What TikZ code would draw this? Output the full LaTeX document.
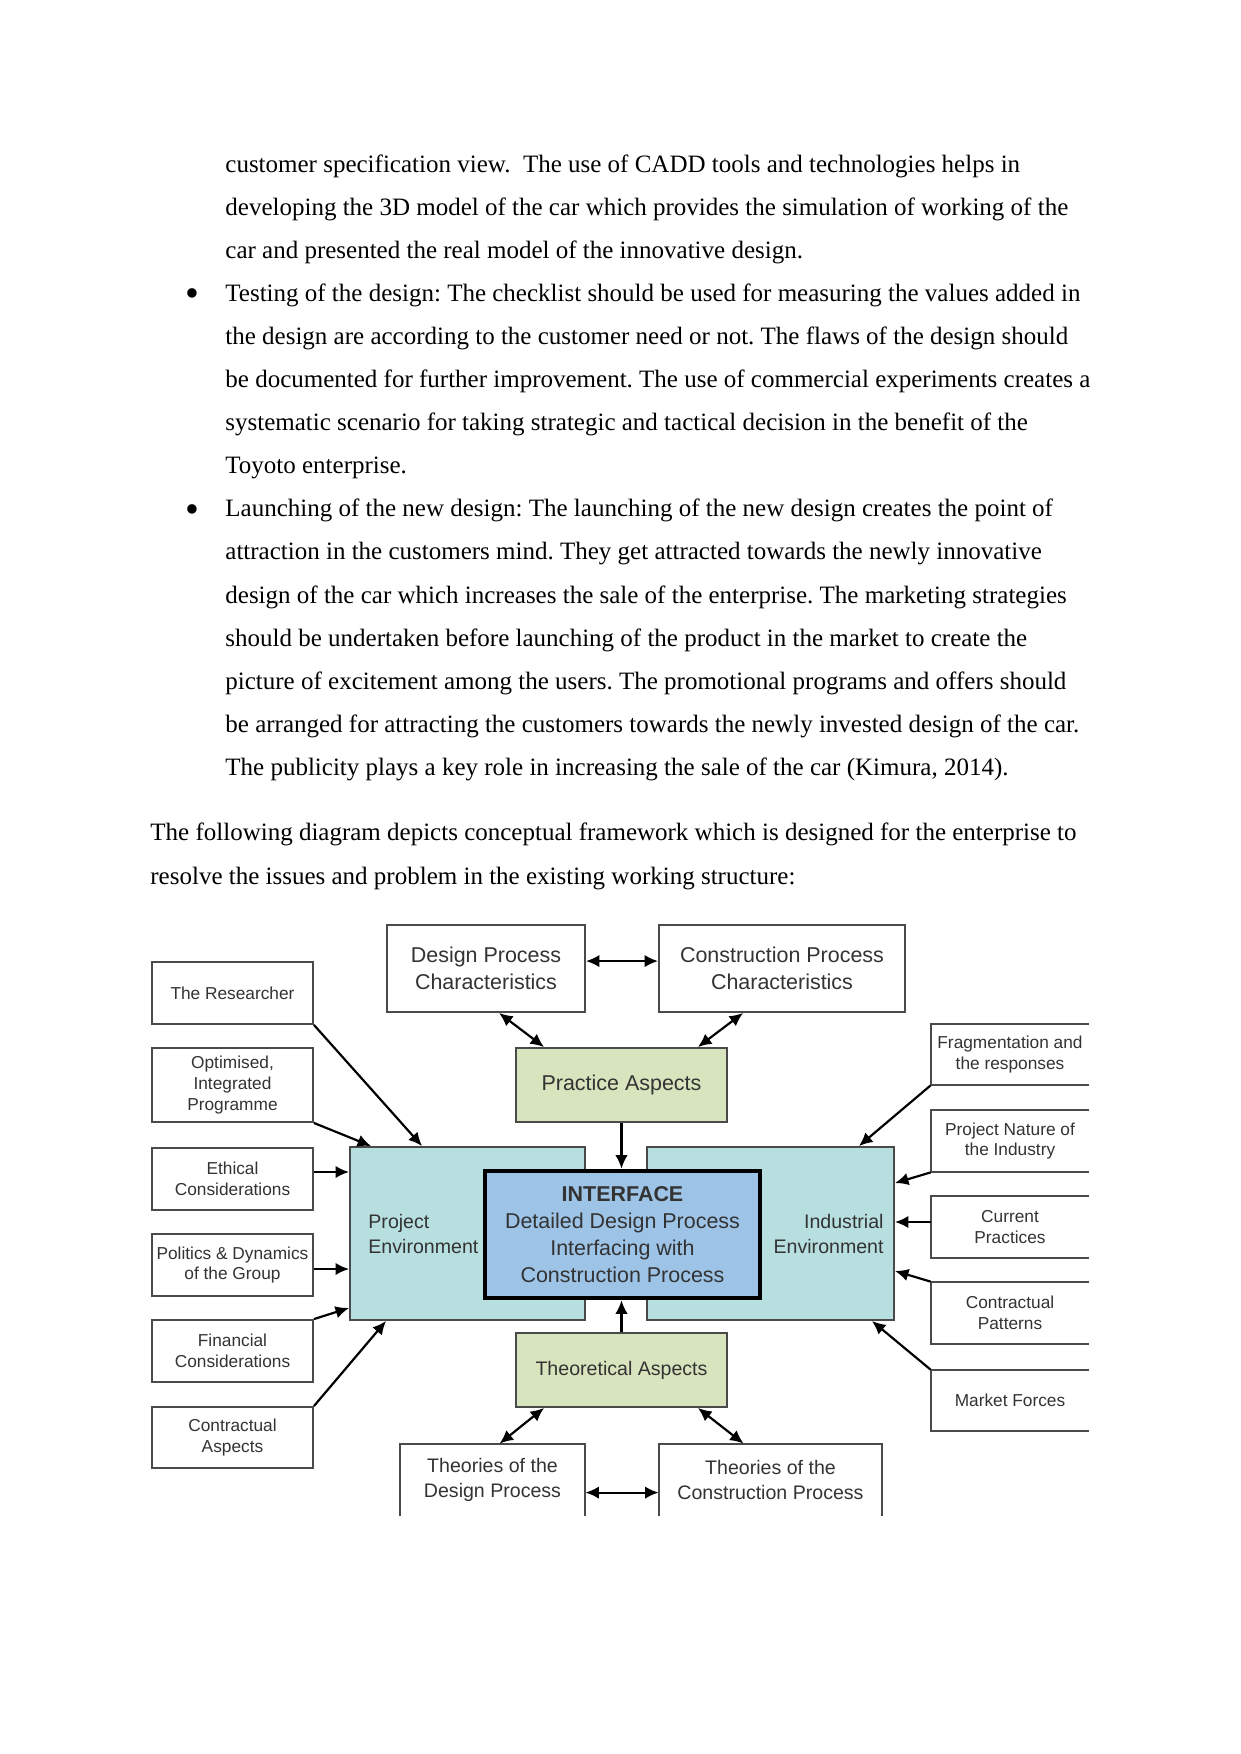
\documentclass[tikz,border=0pt]{standalone}
\usepackage{fontspec}
\setmainfont{Liberation Serif}
\newfontfamily\dia{Liberation Sans}
\usetikzlibrary{arrows.meta,calc}
\definecolor{txt}{HTML}{333333}
\definecolor{brd}{HTML}{4A4A4A}
\definecolor{envc}{HTML}{B8DFDF}
\definecolor{grn}{HTML}{D7E4BD}
\definecolor{ifcc}{HTML}{9DC3E6}
\newcommand\fbig{\dia\fontsize{10.3}{12.9}\selectfont}
\newcommand\fmid{\dia\fontsize{9.4}{11.8}\selectfont}
\newcommand\fsm{\dia\fontsize{8.3}{9.9}\selectfont}
\newcommand\fbody{\frenchspacing\fontsize{12}{14}\selectfont}
\newcommand\fbul{\fontsize{19}{19}\selectfont}
\begin{document}
\begin{tikzpicture}[x=0.48pt,y=-0.48pt,
  every node/.style={inner sep=0pt},
  bodyline/.style={anchor=base west, font=\fbody},
  bul/.style={anchor=center, font=\fbul},
  rect/.style n args={4}{minimum width={(#3-#1)*0.48pt}, minimum height={(#4-#2)*0.48pt},
     at={({(#1+#3)/2},{(#2+#4)/2})}, align=center, text=txt},
  wbox/.style={draw=brd, line width=0.9pt, fill=white},
  gbox/.style={draw=brd, line width=0.9pt, fill=grn},
  ebox/.style={draw=brd, line width=0.9pt, fill=envc},
  ibox/.style={draw=black, line width=2.2pt, fill=ifcc},
  openline/.style={draw=brd, line width=0.9pt},
  arr/.style={-{Latex[length=6.5pt,width=6pt]}, line width=1.05pt},
  darr/.style={{Latex[length=6.5pt,width=6pt]}-{Latex[length=6.5pt,width=6pt]}, line width=1.05pt}]
\useasboundingbox (0,0) rectangle (1241,1754);
\fill[white] (0,0) rectangle (1241,1754);

% ---------- body text ----------
\node[bodyline] (l0) at (225,172) {customer specification view.~ The use of CADD tools and technologies helps in};
\node[bodyline] (l1) at (225,215.1) {developing the 3D model of the car which provides the simulation of working of the};
\node[bodyline] (l2) at (225,258.2) {car and presented the real model of the innovative design.};
\node[bul] (b1) at (192,298) {\textbullet};
\node[bodyline] (l3) at (225,301.3) {Testing of the design: The checklist should be used for measuring the values added in};
\node[bodyline] (l4) at (225,344.4) {the design are according to the customer need or not. The flaws of the design should};
\node[bodyline] (l5) at (225,387.5) {be documented for further improvement. The use of commercial experiments creates a};
\node[bodyline] (l6) at (225,430.6) {systematic scenario for taking strategic and tactical decision in the benefit of the};
\node[bodyline] (l7) at (225,473.7) {Toyoto enterprise.};
\node[bul] (b2) at (192,513.5) {\textbullet};
\node[bodyline] (l8) at (225,516.8) {Launching of the new design: The launching of the new design creates the point of};
\node[bodyline] (l9) at (225,559.9) {attraction in the customers mind. They get attracted towards the newly innovative};
\node[bodyline] (l10) at (225,603) {design of the car which increases the sale of the enterprise. The marketing strategies};
\node[bodyline] (l11) at (225,646.1) {should be undertaken before launching of the product in the market to create the};
\node[bodyline] (l12) at (225,689.2) {picture of excitement among the users. The promotional programs and offers should};
\node[bodyline] (l13) at (225,732.3) {be arranged for attracting the customers towards the newly invested design of the car.};
\node[bodyline] (l14) at (225,775.4) {The publicity plays a key role in increasing the sale of the car (Kimura, 2014).};
\node[bodyline] (p0) at (150,840.5) {The following diagram depicts conceptual framework which is designed for the enterprise to};
\node[bodyline] (p1) at (150,884) {resolve the issues and problem in the existing working structure:};

% ---------- diagram boxes ----------
\node[wbox,rect={387}{925}{585}{1012},font=\fbig] (dpc) {Design Process\\Characteristics};
\node[wbox,rect={659}{925}{905}{1012},font=\fbig] (cpc) {Construction Process\\Characteristics};
\node[wbox,rect={152}{962}{313}{1024},font=\fsm] (res) {The Researcher};
\node[wbox,rect={152}{1048}{313}{1122},font=\fsm] (opt) {Optimised,\\Integrated\\Programme};
\node[wbox,rect={152}{1148}{313}{1210},font=\fsm] (eth) {Ethical\\Considerations};
\node[wbox,rect={152}{1234}{313}{1296},font=\fsm] (pol) {Politics \& Dynamics\\of the Group};
\node[wbox,rect={152}{1320}{313}{1382},font=\fsm] (fin) {Financial\\Considerations};
\node[wbox,rect={152}{1407}{313}{1468},font=\fsm] (cas) {Contractual\\Aspects};
\node[gbox,rect={516}{1048}{727}{1122},font=\fbig] (pra) {Practice Aspects};
\node[ebox,rect={350}{1147}{585}{1320}] (pe) {};
\node[ebox,rect={647}{1147}{894}{1320}] (ie) {};
\node[anchor=west,font=\fmid,align=left,text=txt] (pet) at (368,1234) {Project\\Environment};
\node[anchor=east,font=\fmid,align=right,text=txt] (iet) at (884,1234) {Industrial\\Environment};
\node[ibox,rect={485}{1171}{760}{1298},font=\fbig] (ifc) {\textbf{INTERFACE}\\Detailed Design Process\\Interfacing with\\Construction Process};
\node[gbox,rect={516}{1333}{727}{1407},font=\fmid] (tha) {Theoretical Aspects};

% bottom boxes (cut off at the bottom)
\node[rect={400}{1444}{585}{1516},font=\fmid] (tdp) {Theories of the\\Design Process};
\draw[openline] (tdp.south west) -- (tdp.north west) -- (tdp.north east) -- (tdp.south east);
\node[rect={659}{1444}{882}{1516},font=\fmid] (tcp) {Theories of the\\Construction Process};
\draw[openline] (tcp.south west) -- (tcp.north west) -- (tcp.north east) -- (tcp.south east);

% right boxes (cut off at the right)
\node[rect={931}{1024}{1089}{1085},font=\fsm] (frag) {Fragmentation and\\the responses};
\draw[openline] (frag.north east) -- (frag.north west) -- (frag.south west) -- (frag.south east);
\node[rect={931}{1110}{1089}{1172},font=\fsm] (pni) {Project Nature of\\the Industry};
\draw[openline] (pni.north east) -- (pni.north west) -- (pni.south west) -- (pni.south east);
\node[rect={931}{1196}{1089}{1258},font=\fsm] (cur) {Current\\Practices};
\draw[openline] (cur.north east) -- (cur.north west) -- (cur.south west) -- (cur.south east);
\node[rect={931}{1282}{1089}{1344},font=\fsm] (cpa) {Contractual\\Patterns};
\draw[openline] (cpa.north east) -- (cpa.north west) -- (cpa.south west) -- (cpa.south east);
\node[rect={931}{1370}{1089}{1431},font=\fsm] (mkt) {Market Forces};
\draw[openline] (mkt.north east) -- (mkt.north west) -- (mkt.south west) -- (mkt.south east);

% ---------- connectors ----------
\draw[darr] ($(dpc.north east)+(0,37)$) -- ($(cpc.north west)+(0,37)$);
\draw[darr] ($(dpc.south west)+(113,0)$) -- ($(pra.north west)+(29,0)$);
\draw[darr] ($(cpc.south west)+(85,0)$) -- ($(pra.north east)+(-30,0)$);
\draw[arr] (pra.south) -- (pra.south |- ifc.north);
\draw[arr] (tha.north) -- (tha.north |- ifc.south);
\draw[darr] ($(tha.south west)+(29,0)$) -- ($(tdp.north west)+(100,0)$);
\draw[darr] ($(tha.south east)+(-30,0)$) -- ($(tcp.north west)+(85,0)$);
\draw[darr] ($(tdp.north east)+(0,49)$) -- ($(tcp.north west)+(0,49)$);

\draw[arr] (res.south east) -- ($(pe.north west)+(73,0)$);
\draw[arr] (opt.south east) -- ($(pe.north west)+(22,0)$);
\draw[arr] ($(eth.east)+(0,-7)$) -- ($(pe.west |- eth.east)+(0,-7)$);
\draw[arr] ($(pol.east)+(0,4)$) -- ($(pe.west |- pol.east)+(0,4)$);
\draw[arr] (fin.north east) -- ($(pe.south west)+(0,-13)$);
\draw[arr] (cas.north east) -- ($(pe.south west)+(37,0)$);

\draw[arr] (frag.south west) -- ($(ie.north east)+(-36,0)$);
\draw[arr] (pni.south west) -- ($(ie.north east)+(0,37)$);
\draw[arr] ($(cur.west)+(0,-5)$) -- ($(ie.east |- cur.west)+(0,-5)$);
\draw[arr] (cpa.north west) -- ($(ie.south east)+(0,-50)$);
\draw[arr] (mkt.north west) -- ($(ie.south east)+(-23,0)$);
\end{tikzpicture}
\end{document}
